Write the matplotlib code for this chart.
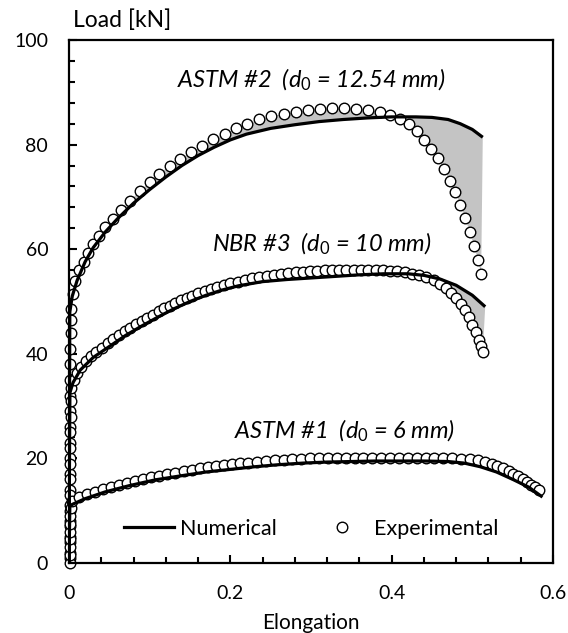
import matplotlib
matplotlib.use("Agg")
import matplotlib.pyplot as plt
from matplotlib.lines import Line2D
from matplotlib.ticker import MultipleLocator

plt.rcParams["font.family"] = "Lato"
plt.rcParams["mathtext.fontset"] = "custom"
plt.rcParams["mathtext.rm"] = "Lato"
plt.rcParams["mathtext.it"] = "Lato:italic"

# ── numerical curves ─────────────────────────────────────
astm2_num_x = [0, 0.001, 0.004, 0.01, 0.02, 0.03, 0.045, 0.06, 0.08, 0.1, 0.12, 0.14, 0.16,
               0.18, 0.2, 0.22, 0.25, 0.28, 0.31, 0.34, 0.37, 0.40, 0.43, 0.45, 0.47,
               0.485, 0.50, 0.513]
astm2_num_y = [0, 48, 51, 54, 57.6, 60.3, 63.3, 65.8, 68.8, 71.4, 73.8, 76.0, 77.9,
               79.5, 80.9, 82.0, 83.1, 83.8, 84.4, 84.8, 85.1, 85.3, 85.3, 85.2, 84.8,
               84.0, 82.9, 81.4]

nbr3_num_x = [0, 0.001, 0.005, 0.014, 0.03, 0.05, 0.07, 0.09, 0.11, 0.13, 0.15, 0.17, 0.19,
              0.21, 0.24, 0.27, 0.30, 0.33, 0.36, 0.39, 0.42, 0.44, 0.46, 0.48, 0.50, 0.516]
nbr3_num_y = [0, 32.5, 34.5, 36.9, 39.3, 41.4, 43.5, 45.3, 47.0, 48.6, 50.0, 51.2, 52.2,
              53.0, 53.8, 54.2, 54.5, 54.8, 55.1, 55.3, 55.3, 55.0, 54.3, 53.1, 51.2, 49.0]

astm1_num_x = [0, 0.001, 0.004, 0.02, 0.045, 0.075, 0.107, 0.14, 0.17, 0.2, 0.23, 0.26, 0.29,
               0.32, 0.35, 0.38, 0.41, 0.44, 0.47, 0.49, 0.51, 0.53, 0.55, 0.57, 0.587]
astm1_num_y = [0, 10.8, 11.2, 12.3, 13.6, 14.8, 15.9, 16.7, 17.4, 17.9, 18.4, 18.8, 19.1,
               19.3, 19.4, 19.5, 19.5, 19.5, 19.4, 19.1, 18.4, 17.4, 16.0, 14.5, 12.6]

# ── experimental points ──────────────────────────────────
astm2_exp_x = [0.001, 0.001, 0.001, 0.001, 0.001, 0.001, 0.001, 0.001, 0.001, 0.001, 0.001,
               0.001, 0.001, 0.001, 0.002, 0.002,
               0.003, 0.005, 0.008, 0.013, 0.018, 0.024, 0.030, 0.037, 0.045, 0.055, 0.065,
               0.076, 0.088, 0.100, 0.112, 0.125, 0.138, 0.151, 0.165, 0.179, 0.193, 0.207,
               0.221, 0.236, 0.251, 0.266, 0.281, 0.296, 0.311, 0.326, 0.341, 0.356, 0.371,
               0.385, 0.398, 0.410, 0.421, 0.431, 0.440, 0.449, 0.457, 0.465, 0.472, 0.479,
               0.485, 0.491, 0.497, 0.502, 0.507, 0.511]
astm2_exp_y = [2, 5, 8, 11, 14, 17, 20, 23, 26, 29, 32, 35, 38, 41, 44, 46.5,
               48.5, 51.5, 54.0, 56.0, 57.5, 59.3, 61.0, 62.6, 64.2, 65.8, 67.4,
               69.3, 71.2, 72.8, 74.4, 76.0, 77.3, 78.5, 79.7, 81.0, 82.1, 83.1,
               84.0, 84.8, 85.4, 85.9, 86.3, 86.6, 86.8, 87.0, 87.0, 86.9, 86.7,
               86.3, 85.7, 84.9, 84.0, 82.6, 80.9, 79.1, 77.4, 75.3, 73.1, 70.9,
               68.4, 65.9, 63.3, 60.7, 58.0, 55.3]

nbr3_exp_x = [0.001, 0.001, 0.001, 0.001, 0.001, 0.001, 0.001, 0.001, 0.001, 0.002, 0.002,
              0.003, 0.006, 0.010, 0.015, 0.021, 0.027, 0.034, 0.041, 0.048, 0.055, 0.062,
              0.069, 0.076, 0.083, 0.090, 0.097, 0.104, 0.111, 0.118, 0.125, 0.132, 0.139,
              0.146, 0.153, 0.160, 0.168, 0.176, 0.184, 0.192, 0.200, 0.209, 0.218, 0.227,
              0.236, 0.245, 0.254, 0.263, 0.272, 0.281, 0.290, 0.299, 0.308, 0.317, 0.326,
              0.335, 0.344, 0.353, 0.362, 0.371, 0.380, 0.389, 0.398, 0.407, 0.416, 0.425,
              0.434, 0.443, 0.452, 0.460, 0.467, 0.474, 0.480, 0.486, 0.491, 0.496, 0.500,
              0.504, 0.508, 0.511, 0.513]
nbr3_exp_y = [1, 4, 7, 10, 13, 16, 19, 22, 25, 28, 31,
              33.5, 35.0, 36.3, 37.5, 38.6, 39.5, 40.4, 41.2, 42.0, 42.8, 43.6,
              44.3, 45.0, 45.7, 46.3, 46.9, 47.5, 48.1, 48.7, 49.2, 49.7, 50.2,
              50.7, 51.1, 51.6, 52.0, 52.4, 52.8, 53.2, 53.5, 53.8, 54.1, 54.4,
              54.7, 54.9, 55.1, 55.3, 55.5, 55.6, 55.7, 55.8, 55.9, 56.0, 56.0,
              56.1, 56.1, 56.1, 56.1, 56.1, 56.0, 56.0, 55.9, 55.8, 55.6, 55.3,
              55.0, 54.6, 54.1, 53.4, 52.6, 51.7, 50.7, 49.6, 48.3, 47.0, 45.6,
              44.2, 42.7, 41.5, 40.3]

astm1_exp_x = [0.001, 0.001, 0.001, 0.001, 0.001, 0.001, 0.001, 0.002,
               0.004, 0.012, 0.022, 0.032, 0.042, 0.052, 0.062, 0.072, 0.082, 0.092, 0.102,
               0.112, 0.122, 0.132, 0.142, 0.152, 0.162, 0.172, 0.182, 0.192, 0.202, 0.212,
               0.222, 0.233, 0.244, 0.255, 0.266, 0.277, 0.288, 0.299, 0.310, 0.321, 0.332,
               0.343, 0.354, 0.365, 0.376, 0.387, 0.398, 0.409, 0.420, 0.431, 0.442, 0.453,
               0.464, 0.475, 0.486, 0.497, 0.507, 0.516, 0.524, 0.531, 0.538, 0.545, 0.551,
               0.557, 0.563, 0.568, 0.573, 0.578, 0.583]
astm1_exp_y = [0, 1.5, 3, 4.5, 6, 7.5, 9, 10.5,
               11.8, 12.6, 13.1, 13.6, 14.1, 14.5, 14.9, 15.3, 15.7, 16.0, 16.4,
               16.7, 17.0, 17.3, 17.6, 17.8, 18.1, 18.3, 18.5, 18.7, 18.9, 19.1,
               19.2, 19.4, 19.5, 19.6, 19.7, 19.8, 19.9, 20.0, 20.0, 20.1, 20.1,
               20.1, 20.1, 20.1, 20.1, 20.1, 20.1, 20.1, 20.1, 20.1, 20.1, 20.0,
               20.0, 20.0, 19.9, 19.8, 19.6, 19.3, 19.0, 18.6, 18.1, 17.6, 17.1,
               16.6, 16.0, 15.5, 15.0, 14.5, 13.9]

labels = ["ASTM #2  ($d_0$ = 12.54 mm)",
          "NBR #3  ($d_0$ = 10 mm)",
          "ASTM #1  ($d_0$ = 6 mm)"]
label_pos = [(0.301, 92.4), (0.313, 61.0), (0.341, 25.2)]

curves = [(astm2_num_x, astm2_num_y, astm2_exp_x, astm2_exp_y),
          (nbr3_num_x, nbr3_num_y, nbr3_exp_x, nbr3_exp_y),
          (astm1_num_x, astm1_num_y, astm1_exp_x, astm1_exp_y)]

# ── plot ─────────────────────────────────────────────────
fig = plt.figure(figsize=(5.68, 6.33), dpi=100)
ax = fig.add_axes([0.1215, 0.1106, 0.852, 0.8262])

for nx, ny, ex, ey in curves:
    # shaded gap between model and test (plastic part only)
    pn = [(x, y) for x, y in zip(nx, ny) if x > 0.003]
    pe = [(x, y) for x, y in zip(ex, ey) if x > 0.002]
    poly = pn + pe[::-1]
    ax.fill([p[0] for p in poly], [p[1] for p in poly], color="#c4c4c4", lw=0, zorder=1)
    ax.plot(ex, ey, "o", ms=7.6, mfc="white", mec="black", mew=1.0, clip_on=False, zorder=2)
    ax.plot(nx, ny, color="black", lw=2.3, zorder=3, solid_capstyle="butt")

for txt, (tx, ty) in zip(labels, label_pos):
    ax.text(tx, ty, txt, ha="center", va="center", fontsize=17, style="italic")

ax.set_xlim(0, 0.6)
ax.set_ylim(0, 100)
ax.xaxis.set_major_locator(MultipleLocator(0.2))
ax.xaxis.set_minor_locator(MultipleLocator(0.04))
ax.yaxis.set_major_locator(MultipleLocator(20))
ax.yaxis.set_minor_locator(MultipleLocator(4))
ax.xaxis.set_major_formatter(plt.FuncFormatter(lambda v, p: f"{v:g}"))
ax.tick_params(which="both", direction="in", width=1.5, labelsize=14)
ax.tick_params(which="major", length=6, pad=16)
ax.tick_params(which="minor", length=4)
ax.tick_params(axis="y", which="major", pad=15)
for s in ax.spines.values():
    s.set_linewidth(1.6)

ax.set_xlabel("Elongation", fontsize=15, labelpad=8)
fig.text(73 / 568, 1 - 20 / 633, "Load [kN]", fontsize=16.5, ha="left", va="center")

handles = [Line2D([], [], color="black", lw=2.3),
           Line2D([], [], ls="none", marker="o", ms=7.6, mfc="white", mec="black", mew=1.0)]
ax.legend(handles, ["Numerical", "Experimental"], loc="center", bbox_to_anchor=(0.5, 0.065),
          ncol=2, frameon=False, fontsize=15.5, handlelength=2.3, handletextpad=0.3,
          columnspacing=1.9)

fig.savefig("out.png", dpi=100)
